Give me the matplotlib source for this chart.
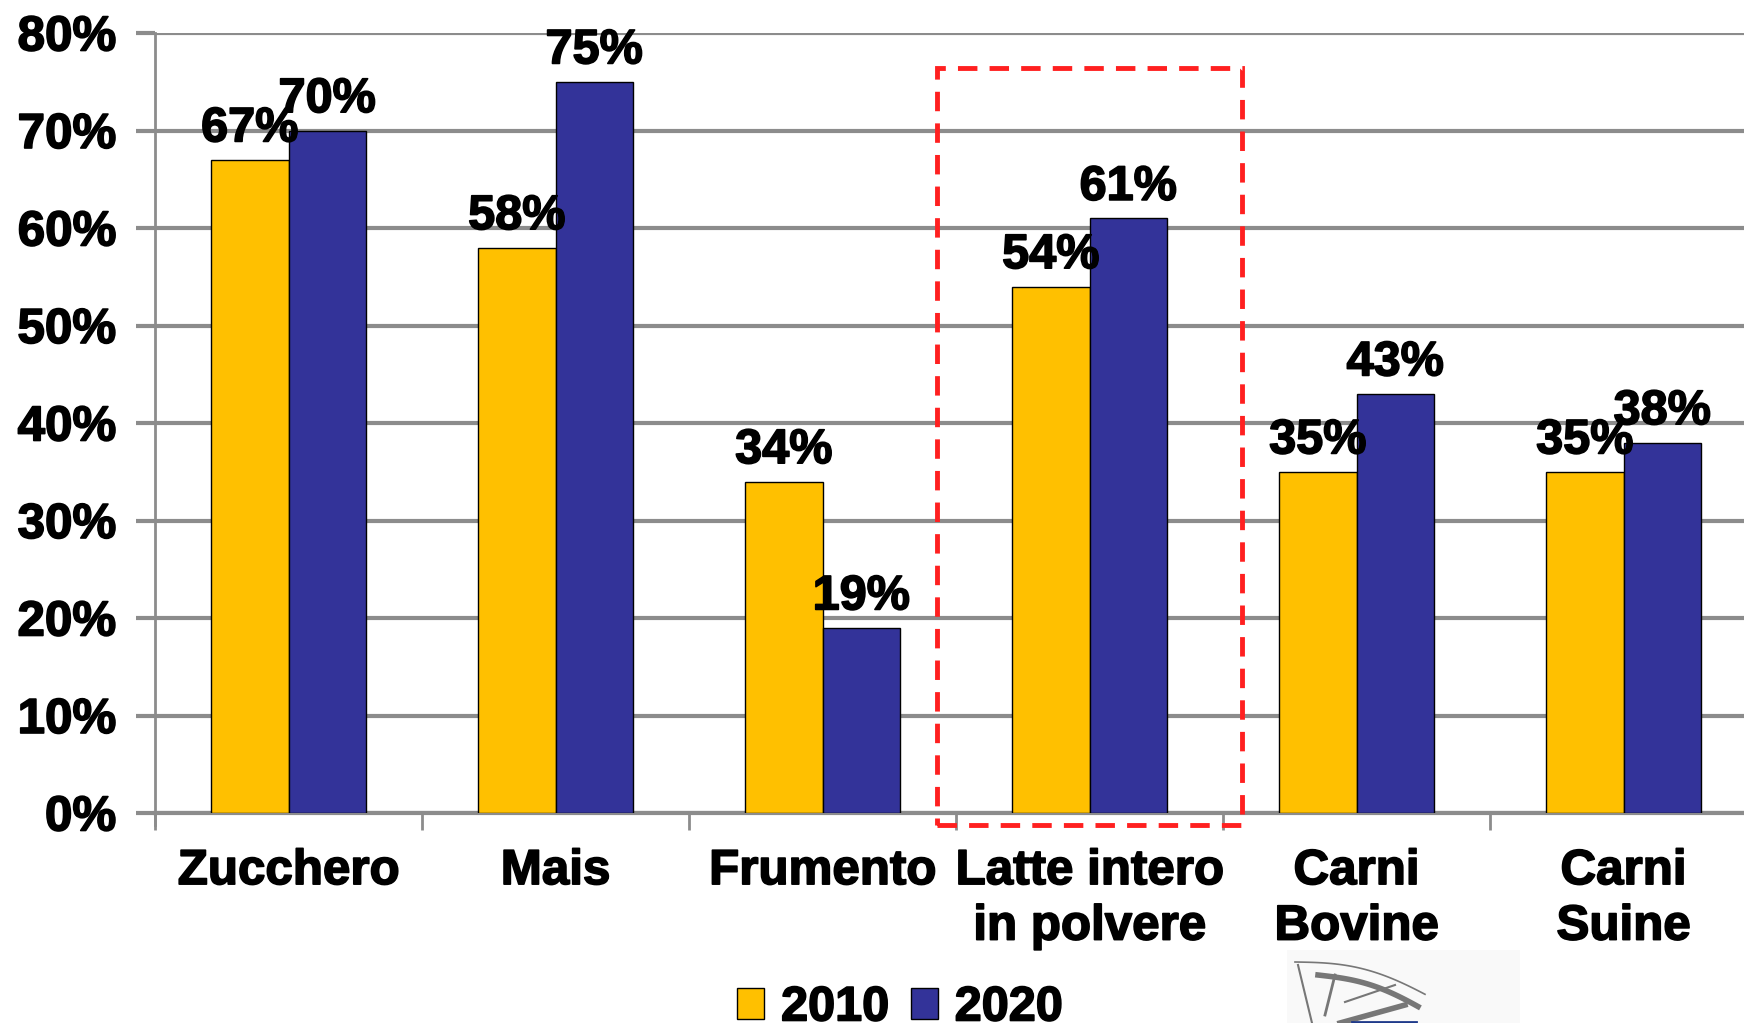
import matplotlib.pyplot as plt
import matplotlib.patches as mpatches
import matplotlib.patheffects as pe
import numpy as np

categories = ['Zucchero', 'Mais', 'Frumento', 'Latte intero\nin polvere', 'Carni\nBovine', 'Carni\nSuine']
years = ['2010', '2020']
vals_2010 = [67, 58, 34, 54, 35, 35]
vals_2020 = [70, 75, 19, 61, 43, 38]
yticks = [0, 10, 20, 30, 40, 50, 60, 70, 80]

C_2010 = '#FFC000'
C_2020 = '#333399'
GRID = '#8c8c8c'

plt.rcParams['font.family'] = ['Liberation Sans', 'DejaVu Sans']
plt.rcParams['font.weight'] = 'bold'

# slight stroke to get the heavy look of the original labels
heavy = [pe.withStroke(linewidth=1.2, foreground='black')]

fig = plt.figure(figsize=(17.44, 10.23), dpi=100)
W, H = 1744, 1023
# axes in pixel terms: left 155, right ~1757, 0% at y=813, 80% at y=33
ax = fig.add_axes([155 / W, (H - 813) / H, (1757 - 155) / W, (813 - 33) / H])

x = np.arange(len(categories))
bw = 0.29
b1 = ax.bar(x - bw / 2, vals_2010, bw, color=C_2010, edgecolor='black', linewidth=1, zorder=3)
b2 = ax.bar(x + bw / 2, vals_2020, bw, color=C_2020, edgecolor='black', linewidth=1, zorder=3)

for bars, vals in ((b1, vals_2010), (b2, vals_2020)):
    for r, v in zip(bars, vals):
        ax.annotate('%d%%' % v, (r.get_x() + r.get_width() / 2, v),
                    xytext=(0, 6), textcoords='offset points',
                    ha='center', va='bottom', fontsize=35, fontweight='bold',
                    path_effects=heavy, zorder=5)

ax.set_xlim(-0.5, len(categories) - 0.5)
ax.set_ylim(0, 80)
ax.set_yticks(yticks)
ax.set_yticklabels(['%d%%' % t for t in yticks], fontsize=35.5, fontweight='bold')
ax.yaxis.grid(True, color=GRID, linewidth=3, zorder=0)
ax.set_axisbelow(True)

ax.set_xticks(x)
ax.set_xticklabels(categories, fontsize=35.5, fontweight='bold', linespacing=1.3)
ax.tick_params(axis='x', length=0, pad=26)
ax.set_xticks(np.arange(len(categories) + 1) - 0.5, minor=True)
ax.tick_params(axis='x', which='minor', length=12, width=2, color=GRID)
ax.tick_params(axis='y', length=14, width=3, color=GRID, pad=14)
for t in ax.get_xticklabels() + ax.get_yticklabels():
    t.set_path_effects(heavy)

for s in ('top', 'right'):
    ax.spines[s].set_visible(False)
ax.spines['left'].set_color(GRID)
ax.spines['left'].set_linewidth(2)
ax.spines['left'].set_bounds(-1.2, 80)
ax.spines['bottom'].set_color(GRID)
ax.spines['bottom'].set_linewidth(3)

# red dashed highlight box around "Latte intero in polvere"
box = mpatches.Rectangle((2.43, -1.2), 1.14, 77.6, fill=False, edgecolor='#FF2020',
                         linewidth=3.5, linestyle=(0, (4, 2.5)), clip_on=False, zorder=6)
ax.add_patch(box)

handles = [mpatches.Patch(facecolor=C_2010, edgecolor='black'),
           mpatches.Patch(facecolor=C_2020, edgecolor='black')]
leg = fig.legend(handles, years, loc='center', bbox_to_anchor=(900 / W, (H - 1008) / H),
                 ncol=2, frameon=False, prop={'weight': 'bold', 'size': 35},
                 handlelength=0.55, handleheight=0.6, handletextpad=0.35, columnspacing=0.45)
for t in leg.get_texts():
    t.set_path_effects(heavy)

# clipped logo in the bottom-right corner (decoration only)
logo = fig.add_axes([1287 / W, 0, (1520 - 1287) / W, (1023 - 950) / H])
logo.set_xlim(1287, 1520)
logo.set_ylim(1023, 950)
logo.axis('off')
logo.add_patch(mpatches.Rectangle((1287, 950), 233, 73, color='#f9f9f9', zorder=0))
t = np.linspace(0, 1, 40)
logo.plot(1295 + 130 * t, 962 - 12 * np.sin(np.pi * t * 0.9) + 36 * t, color='#777777', lw=1.2)
logo.plot(1318 + 100 * t, 975 - 8 * np.sin(np.pi * t * 0.9) + 34 * t, color='#777777', lw=4)
logo.plot([1298, 1312], [965, 1023], color='#777777', lw=1.5)
logo.plot([1335, 1325], [975, 1015], color='#777777', lw=2)
logo.plot([1345, 1395], [1002, 985], color='#777777', lw=1.5)
logo.plot([1340, 1405], [1023, 1005], color='#777777', lw=4)
logo.plot([1352, 1416], [1022, 1022], color='#1f3a8a', lw=2)

fig.savefig('out.png', dpi=100)
